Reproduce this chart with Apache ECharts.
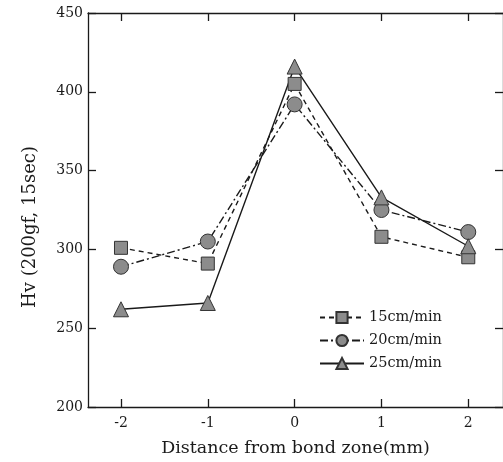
<!DOCTYPE html>
<html>
<head>
<meta charset="utf-8">
<style>
  html, body { margin: 0; padding: 0; background: #fff; }
  #chart { width: 503px; height: 462px; }
</style>
<script src="https://cdn.jsdelivr.net/npm/echarts@6/dist/echarts.min.js"></script>
</head>
<body>
<div id="chart"></div>
<script>
// Vickers hardness across the bond zone for three welding speeds
const distances = [-2, -1, 0, 1, 2];
const hv15 = [301, 291, 405, 308, 295];
const hv20 = [289, 305, 392, 325, 311];
const hv25 = [262, 266, 416, 333, 302];
const xTicks = [-2, -1, 0, 1, 2];
const seriesNames = ['15cm/min', '20cm/min', '25cm/min'];

const FONT = '"DejaVu Serif", "Liberation Serif", serif';
const INK = '#1a1a1a';
const MARK = '#8c8c8c';

const X_MIN = -2.38, X_MAX = 2.4;
const Y_MIN = 200, Y_MAX = 450, Y_STEP = 50;

function pairs(vals) {
  return distances.map((d, i) => [d, vals[i]]);
}

function lineSeries(name, vals, symbol, size, dash) {
  return {
    name: name,
    type: 'line',
    data: pairs(vals),
    symbol: symbol,
    symbolSize: size,
    showAllSymbol: true,
    lineStyle: { color: INK, width: 1.4, type: dash },
    itemStyle: { color: MARK, borderColor: '#333', borderWidth: 1 },
    emphasis: { disabled: true },
    z: 3
  };
}

const axisLine = { show: true, onZero: false, lineStyle: { color: INK, width: 1.3 } };
const tickStyle = { color: INK, width: 1.3 };

function xAxisDef(position, labelled) {
  return {
    type: 'value',
    position: position,
    min: X_MIN,
    max: X_MAX,
    name: labelled ? 'Distance from bond zone(mm)' : '',
    nameLocation: 'middle',
    nameGap: 32,
    nameTextStyle: { fontFamily: FONT, fontSize: 17.5, color: INK },
    axisLine: axisLine,
    axisTick: { show: true, inside: true, length: 8, customValues: xTicks, lineStyle: tickStyle },
    axisLabel: {
      show: labelled,
      customValues: xTicks,
      margin: 9,
      fontFamily: FONT, fontSize: 14, color: INK
    },
    splitLine: { show: false }
  };
}

function yAxisDef(position, labelled) {
  return {
    type: 'value',
    position: position,
    min: Y_MIN,
    max: Y_MAX,
    interval: Y_STEP,
    axisLine: axisLine,
    axisTick: { show: true, inside: true, length: 8, lineStyle: tickStyle },
    axisLabel: { show: labelled, margin: 5, fontFamily: FONT, fontSize: 14, color: INK },
    splitLine: { show: false }
  };
}

const chart = echarts.init(document.getElementById('chart'), null, { renderer: 'canvas' });
chart.setOption({
  animation: false,
  backgroundColor: '#fff',
  grid: { left: 88, top: 13, width: 415, height: 394, containLabel: false },
  xAxis: [xAxisDef('bottom', true), xAxisDef('top', false)],
  yAxis: [yAxisDef('left', true), yAxisDef('right', false)],
  legend: {
    left: 314,
    top: 305,
    orient: 'vertical',
    itemWidth: 44,
    itemHeight: 14,
    itemGap: 8,
    selectedMode: false,
    data: seriesNames,
    textStyle: { fontFamily: FONT, fontSize: 14.5, color: INK, padding: [0, 0, 0, 0] }
  },
  graphic: [
    {
      type: 'text',
      x: 30,
      y: 227,
      rotation: Math.PI / 2,
      style: {
        text: 'Hv (200gf, 15sec)',
        font: '18px ' + FONT,
        fill: INK,
        align: 'center',
        verticalAlign: 'middle'
      }
    }
  ],
  series: [
    lineSeries(seriesNames[0], hv15, 'rect', 13, [5, 4]),
    lineSeries(seriesNames[1], hv20, 'circle', 15, [8, 3, 2, 3]),
    lineSeries(seriesNames[2], hv25, 'triangle', 15, 'solid')
  ]
});
</script>
</body>
</html>
